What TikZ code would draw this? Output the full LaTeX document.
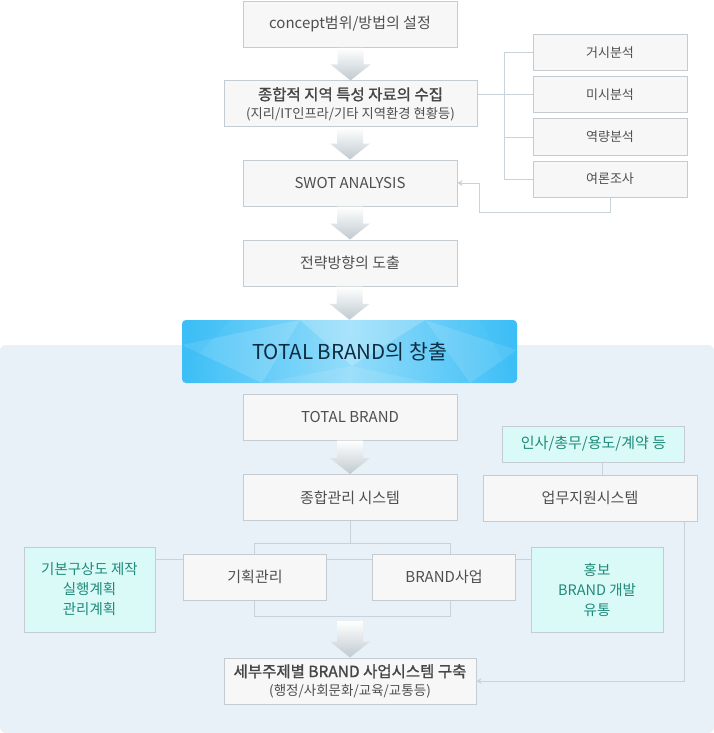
\documentclass[tikz,border=0pt]{standalone}
\usepackage{fontspec}
\setmainfont{Noto Sans CJK KR}
\newfontfamily\krbold[FakeBold=1.2]{Noto Sans CJK KR}
\usetikzlibrary{calc,arrows.meta}
\definecolor{boxfill}{HTML}{F7F7F7}
\definecolor{boxline}{HTML}{C5CCD1}
\definecolor{linkline}{HTML}{C8D2D9}
\definecolor{textgray}{HTML}{4F4F4F}
\definecolor{titlegray}{HTML}{454545}
\definecolor{mint}{HTML}{DAFAF7}
\definecolor{mintext}{HTML}{1F8A7A}
\definecolor{panelbg}{HTML}{E8F1F8}
\definecolor{skyedge}{HTML}{3CBEF6}
\definecolor{skymid}{HTML}{93DCFA}
\definecolor{navytext}{HTML}{0E2C40}
\definecolor{arrowgray}{HTML}{C0CAD0}
\tikzset{
  stepbox/.style={draw=boxline, fill=boxfill, line width=1pt, text=textgray, inner sep=0pt,
    align=center, minimum width=214pt, minimum height=46pt, font=\fontsize{15}{18}\selectfont},
  sidebox/.style={stepbox, minimum width=154pt, minimum height=36pt, font=\fontsize{13}{15}\selectfont},
  mintbox/.style={stepbox, fill=mint, text=mintext, font=\fontsize{14.5}{20}\selectfont},
  link/.style={draw=linkline, line width=1pt},
  linktip/.style={link, -{Stealth[length=5pt,width=6pt]}},
  flowshade/.style={top color=white, bottom color=arrowgray},
}
%% big shaded arrow between two anchors
\newcommand{\flowarrow}[2]{%
  \path[flowshade] let \p1=(#1), \p2=(#2) in
    (\x2-13pt,\y1) -- (\x2+13pt,\y1) -- (\x2+13pt,\y2+16pt) -- (\x2+20pt,\y2+16pt)
    -- (\x2,\y2) -- (\x2-20pt,\y2+16pt) -- (\x2-13pt,\y2+16pt) -- cycle;}
\begin{document}
\begin{tikzpicture}[x=1pt,y=-1pt]
    \useasboundingbox (0,0) rectangle (714,733);
    %% lower panel
    \fill[panelbg, rounded corners=6pt] (0,345) rectangle (714,733);
    %% main column
    \node[stepbox] (concept) at (350,24.5) {concept범위/방법의 설정};
    \node[stepbox, minimum width=253pt] (collect) at (350.5,104)
        {{\krbold\color{titlegray}\fontsize{15.5}{17}\selectfont 종합적 지역 특성 자료의 수집}\\
         {\fontsize{13.3}{15}\selectfont (지리/IT인프라/기타 지역환경 현황등)}};
    \node[stepbox] (swot) at (350,183) {SWOT ANALYSIS};
    \node[stepbox] (strategy) at (350,263) {전략방향의 도출};
    %% analysis boxes
    \node[sidebox] (macro) at (610,53) {거시분석};
    \node[sidebox] (micro) at (610,95) {미시분석};
    \node[sidebox] (capa) at (610,137) {역량분석};
    \node[sidebox] (opinion) at (610,179) {여론조사};
    %% title banner
    \path[left color=skyedge, right color=skyedge, middle color=skymid, rounded corners=4pt]
        (182,320) rectangle (517,383);
    \begin{scope}
        \clip[rounded corners=4pt] (182,320) rectangle (517,383);
        \fill[white, opacity=.14] (182,345) -- (300,320) -- (262,383) -- cycle;
        \fill[white, opacity=.20] (300,320) -- (425,320) -- (352,366) -- cycle;
        \fill[white, opacity=.10] (262,383) -- (352,366) -- (430,383) -- cycle;
        \fill[white, opacity=.12] (425,320) -- (517,350) -- (470,383) -- cycle;
        \fill[skyedge, opacity=.25] (182,320) -- (230,320) -- (182,372) -- cycle;
        \fill[skyedge, opacity=.20] (517,320) -- (480,320) -- (517,383) -- cycle;
    \end{scope}
    \node[minimum width=335pt, minimum height=63pt, text=navytext, font=\fontsize{20.5}{24}\selectfont]
        (creation) at (349.5,351.5) {TOTAL BRAND의 창출};
    %% brand system
    \node[stepbox] (tbrand) at (350,417) {TOTAL BRAND};
    \node[stepbox] (mgmt) at (350,497.5) {종합관리 시스템};
    \node[stepbox, fill=mint, text=mintext, minimum width=182pt, minimum height=36pt] (hr) at (593.5,444)
        {인사/총무/용도/계약 등};
    \node[stepbox] (support) at (590,498) {업무지원시스템};
    \node[stepbox, minimum width=143pt] (plan) at (255,577) {기획관리};
    \node[stepbox, minimum width=143pt] (biz) at (444,577) {BRAND사업};
    \node[mintbox, minimum width=131pt, minimum height=85pt] (basic) at (89.5,589.5)
        {기본구상도 제작\\실행계획\\관리계획};
    \node[mintbox, minimum width=132pt, minimum height=85pt] (promo) at (597,589.5)
        {홍보\\BRAND 개발\\유통};
    \node[stepbox, minimum width=252pt] (detail) at (350,681)
        {{\krbold\color{titlegray}\fontsize{15.5}{17}\selectfont 세부주제별 BRAND 사업시스템 구축}\\
         {\fontsize{13.5}{15}\selectfont (행정/사회문화/교육/교통등)}};
    %% shaded arrows
    \flowarrow{concept.south}{collect.north}
    \flowarrow{collect.south}{swot.north}
    \flowarrow{swot.south}{strategy.north}
    \flowarrow{strategy.south}{creation.north}
    \flowarrow{tbrand.south}{mgmt.north}
    \coordinate (merge) at (350,621);
    \flowarrow{merge}{detail.north}
    %% analysis tree
    \coordinate (trunk) at (504,0);
    \draw[link] (collect.east |- micro.west) -- (micro.west);
    \draw[link] (trunk |- macro) -- (trunk |- opinion);
    \foreach \n in {macro,micro,capa,opinion}
        \draw[link] (trunk |- \n) -- (\n.west);
    %% back to SWOT
    \coordinate (back) at (479,212);
    \draw[linktip] (opinion.south) |- (back) |- (swot.east);
    %% support line
    \coordinate (hrx) at (602,0);
    \draw[link] (hrx |- hr.south) -- (hrx |- support.north);
    \coordinate (supx) at (684.5,0);
    \draw[linktip] (supx |- support.south) |- (detail.east);
    %% brackets
    \coordinate (lb) at (254,0);
    \coordinate (rb) at (450,0);
    \coordinate (topbar) at (0,543);
    \coordinate (botbar) at (0,616);
    \coordinate (sidey) at (0,559);
    \draw[link] (mgmt.south) -- (mgmt.south |- topbar);
    \draw[link] (lb |- plan.north) |- (rb |- topbar) -- (rb |- biz.north);
    \draw[link] (lb |- plan.south) |- (rb |- botbar) -- (rb |- biz.south);
    \draw[link] (basic.east |- sidey) -- (plan.west |- sidey);
    \draw[link] (plan.east |- sidey) -- (biz.west |- sidey);
    \draw[link] (biz.east |- sidey) -- (promo.west |- sidey);
\end{tikzpicture}
\end{document}
